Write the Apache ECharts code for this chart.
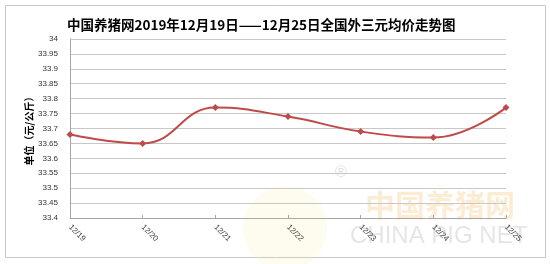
<!DOCTYPE html>
<html><head><meta charset="utf-8">
<script src="https://cdn.jsdelivr.net/npm/echarts@6/dist/echarts.min.js"></script>
<style>html,body{margin:0;padding:0;background:#fff}#c{width:550px;height:264px}</style>
</head><body><div id="c"></div>
<script>
const titleText = '中国养猪网2019年12月19日——12月25日全国外三元均价走势图';
const yAxisName = '单位（元/公斤）';
const categories = ['12/19','12/20','12/21','12/22','12/23','12/24','12/25'];
const prices = [33.68, 33.65, 33.77, 33.74, 33.69, 33.67, 33.77];
const yMin = 33.4, yMax = 34, yStep = 0.05;

const chart = echarts.init(document.getElementById('c'), null, {renderer:'canvas'});
chart.setOption({
  backgroundColor:'#fff',
  animation:false,
  title:{text:titleText,left:62,top:13,
    textStyle:{fontFamily:'Noto Sans CJK SC',fontSize:13.5,fontWeight:'bold',color:'#000'}},
  graphic:[
    {type:'rect',left:3,top:3,shape:{width:540,height:252},style:{fill:'none',stroke:'#c8c8c8',lineWidth:1},z:-1},
    {type:'circle',shape:{cx:285,cy:228,r:42},style:{fill:'rgba(250,225,150,0.15)'},z:-1},
    {type:'text',left:365,top:190,style:{text:'中国养猪网',font:'bold 30px "Noto Sans CJK SC"',fill:'rgba(245,185,100,0.28)'},z:-1},
    {type:'text',left:350,top:224,style:{text:'CHINA PIG NET',font:'24px "Liberation Sans"',fill:'rgba(170,170,170,0.3)'},z:-1},
    {type:'text',left:335,top:165,style:{text:'®',font:'16px "Liberation Sans"',fill:'rgba(180,180,180,0.4)'},z:-1}
  ],
  grid:{left:70,right:44,top:39,bottom:46,containLabel:false},
  xAxis:{type:'category',data:categories,boundaryGap:false,
    axisLine:{lineStyle:{color:'#a6a6a6'}},
    axisTick:{show:true,alignWithLabel:true,inside:true,length:3,lineStyle:{color:'#a6a6a6'}},
    axisLabel:{rotate:-45,fontSize:8,color:'#404040',fontFamily:'Liberation Sans',margin:8},
    splitLine:{show:false}},
  yAxis:{type:'value',min:yMin,max:yMax,interval:yStep,
    name:yAxisName,nameLocation:'middle',nameGap:36,nameRotate:90,nameMoveOverlap:false,
    nameTextStyle:{fontSize:10,fontWeight:'bold',color:'#000',fontFamily:'Noto Sans CJK SC'},
    axisLine:{show:true,lineStyle:{color:'#a6a6a6'}},
    axisTick:{show:false},
    axisLabel:{fontSize:8,color:'#333',fontFamily:'Liberation Sans',margin:12,
      formatter:v=>String(parseFloat(v.toFixed(2)))},
    splitLine:{lineStyle:{color:'#c8c8c8',width:1}}},
  series:[{type:'line',data:prices,smooth:0.45,symbol:'diamond',symbolSize:7,
    lineStyle:{color:'#be4b48',width:2},itemStyle:{color:'#be4b48'}}]
});
</script></body></html>
